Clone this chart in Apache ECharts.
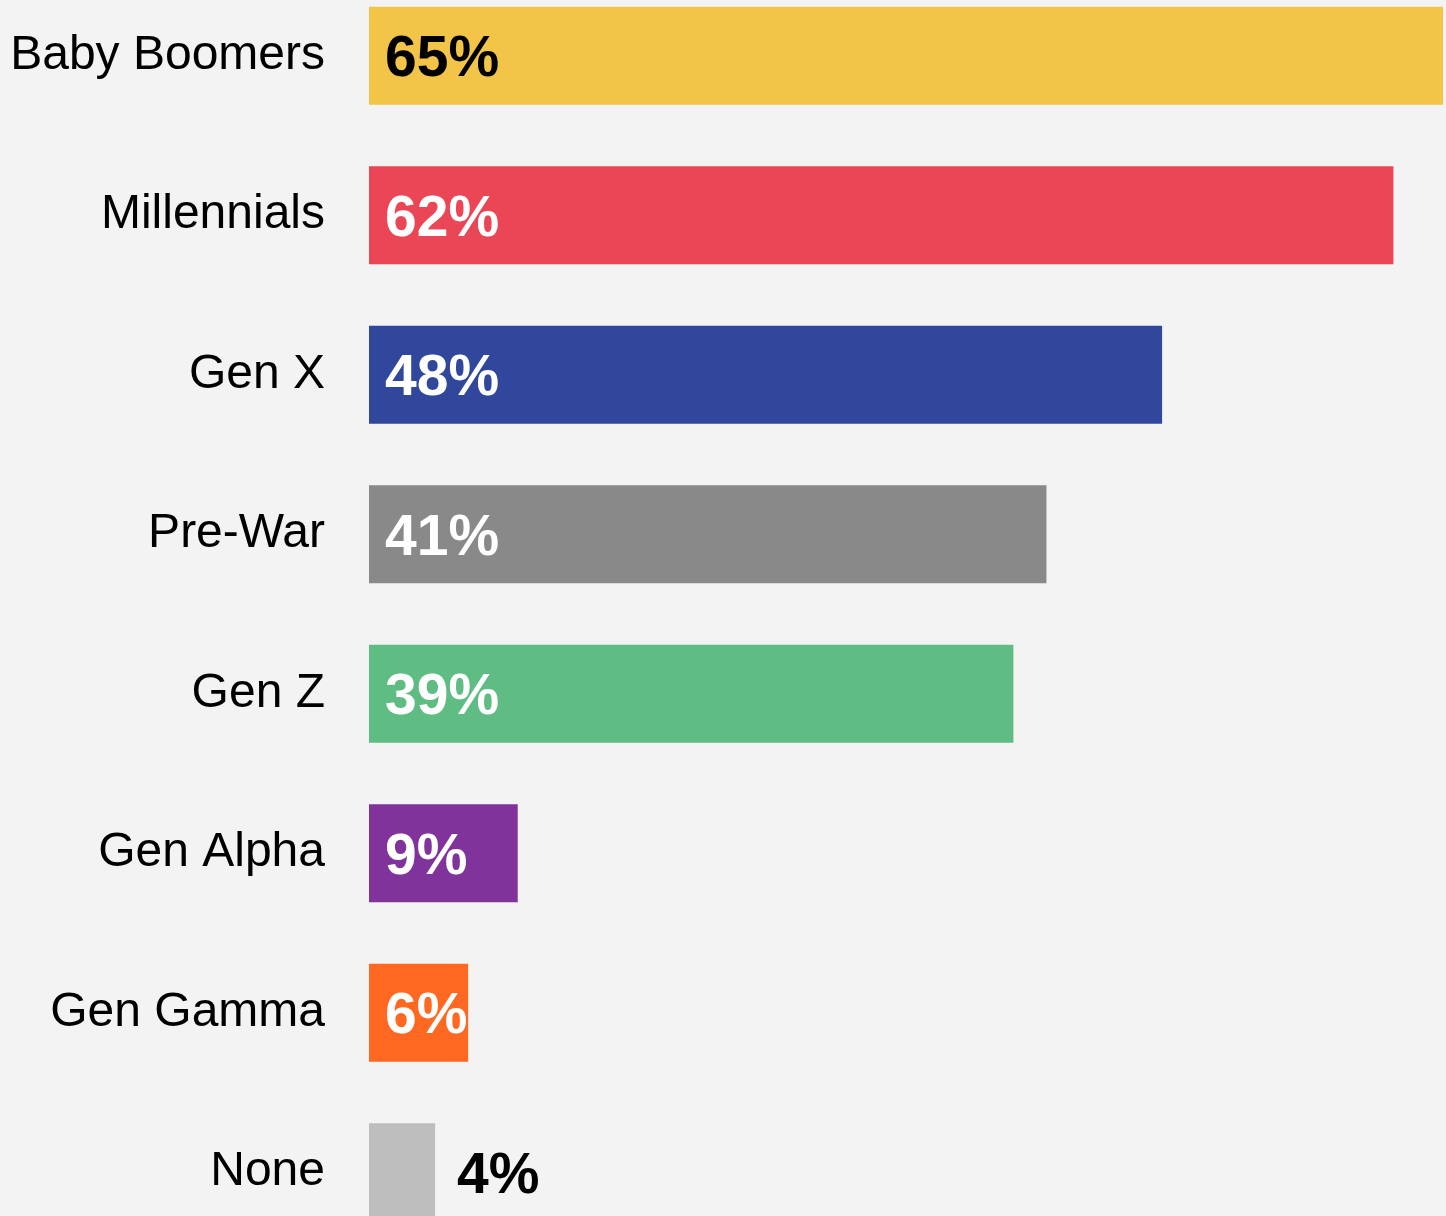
<!DOCTYPE html>
<html>
<head>
<meta charset="utf-8">
<script src="https://cdn.jsdelivr.net/npm/echarts@6/dist/echarts.min.js"></script>
<style>
html, body { margin: 0; padding: 0; background: #f3f3f3; overflow: hidden; }
/* taller than the window: the bottom bar is cut off like in the original */
#chart { width: 1446px; height: 1276px; margin-top: -24px; }
</style>
</head>
<body>
<div id="chart"></div>
<script>
var categories = ["Baby Boomers", "Millennials", "Gen X", "Pre-War", "Gen Z", "Gen Alpha", "Gen Gamma", "None"];
var values = [65, 62, 48, 41, 39, 9, 6, 4];
var colors = ["#f2c447", "#ea4656", "#30479c", "#898989", "#5fbd84", "#80339a", "#ff6820", "#bebebe"];

var myChart = echarts.init(document.getElementById("chart"));

var seriesData = values.map(function (v, i) {
  var item = { value: v, itemStyle: { color: colors[i] } };
  if (i === 0) {
    item.label = { color: "#000" };
  }
  if (categories[i] === "None") {
    // bar too small, label goes outside
    item.label = { position: "right", distance: 22, color: "#000" };
  }
  return item;
});

var option = {
  backgroundColor: "#f3f3f3",
  animation: false,
  grid: {
    left: 369,
    right: 3,
    top: 0,
    bottom: 0
  },
  xAxis: {
    type: "value",
    min: 0,
    max: 65,
    show: false
  },
  yAxis: {
    type: "category",
    inverse: true,
    data: categories,
    axisLine: { show: false },
    axisTick: { show: false },
    axisLabel: {
      margin: 44,
      fontSize: 48,
      color: "#000",
      padding: [5, 0, 0, 0],
      fontFamily: "Liberation Sans"
    }
  },
  series: [
    {
      type: "bar",
      barWidth: 98,
      data: seriesData,
      label: {
        show: true,
        position: "insideLeft",
        distance: 16,
        offset: [0, 5],
        formatter: "{c}%",
        color: "#fff",
        fontSize: 57,
        fontWeight: "bold",
        fontFamily: "Liberation Sans"
      }
    }
  ]
};

myChart.setOption(option);
window.addEventListener("resize", function () {
  myChart.resize();
});
</script>
</body>
</html>
